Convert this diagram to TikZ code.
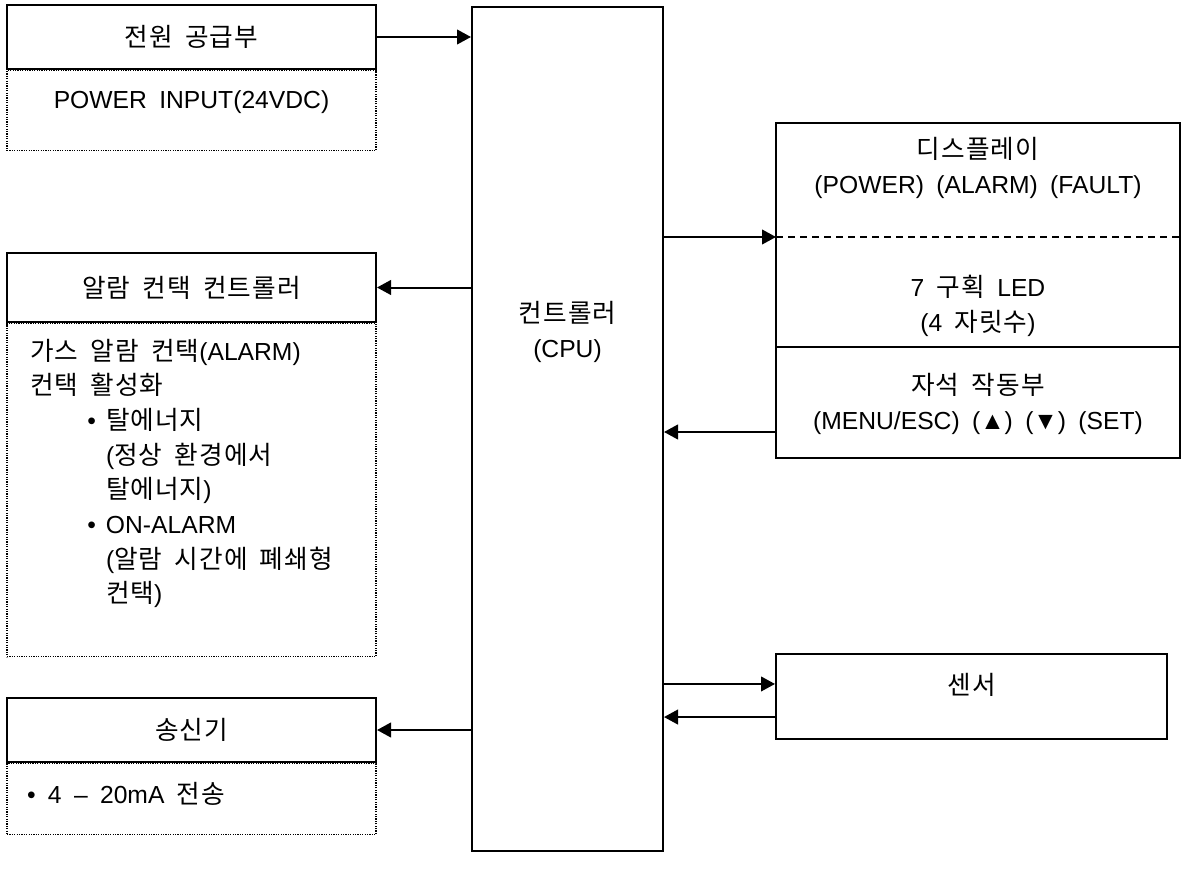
\documentclass[tikz,border=0pt]{standalone}
\usepackage{fontspec}
\setmainfont{Liberation Sans}[WordSpace=1.8]
\newfontfamily\hangulfont{Noto Sans CJK KR}[Scale=1.04,LetterSpace=4]
% Hangul syllables switch to the CJK face by themselves
\XeTeXinterchartokenstate=1
\newXeTeXintercharclass\hangulclass
\count255="AC00
\loop\ifnum\count255<"D7A4
  \XeTeXcharclass\count255=\hangulclass
  \advance\count255 by 1
\repeat
\XeTeXinterchartoks 0 \hangulclass={\begingroup\hangulfont}
\XeTeXinterchartoks 4095 \hangulclass={\begingroup\hangulfont}
\XeTeXinterchartoks \hangulclass 0={\endgroup}
\XeTeXinterchartoks \hangulclass 4095={\endgroup}
\usepackage{tikz}
\usetikzlibrary{arrows.meta,positioning}

\begin{document}
\begin{tikzpicture}[x=0.75pt,y=-0.75pt,->,>={Triangle[length=10.5pt,width=11pt]},
	line width=1.5pt,font=\fontsize{18.5}{26}\selectfont,
	head node/.style={draw,rectangle,line width=1.5pt,inner sep=0pt},
	note node/.style={draw,line width=1pt,dash pattern=on 0.9pt off 0.9pt,inner sep=0pt},
	text node/.style={align=center,inner sep=0pt}]

    \useasboundingbox (0,0) rectangle (1181,881);

    % left column
    \node[head node, minimum width=276.75pt, minimum height=48pt] (P) at (191.5,37) {전원 공급부};
    \node[note node, minimum width=276.75pt, minimum height=60pt, below=0pt of P] (Pn) {};
    \node[text node] (Pt) at (191.5,102) {POWER INPUT(24VDC)};

    \node[head node, minimum width=276.75pt, minimum height=51.75pt] (A) at (191.5,287.5) {알람 컨택 컨트롤러};
    \node[note node, minimum width=276.75pt, minimum height=249.75pt, below=0pt of A] (An) {};
    \node[text node, align=left, anchor=north west] (At) at (29,338) {가스 알람 컨택(ALARM)\\
		컨택 활성화\\
		\hspace*{43pt}\makebox[14pt][l]{•}탈에너지\\
		\hspace*{57pt}(정상 환경에서\\
		\hspace*{57pt}탈에너지)\\
		\hspace*{43pt}\makebox[14pt][l]{•}ON-ALARM\\
		\hspace*{57pt}(알람 시간에 폐쇄형\\
		\hspace*{57pt}컨택)};

    \node[head node, minimum width=276.75pt, minimum height=48pt] (T) at (191.5,730) {송신기};
    \node[note node, minimum width=276.75pt, minimum height=53.25pt, below=0pt of T] (Tn) {};
    \node[text node, anchor=west] (Tt) at (26,794) {• 4 – 20mA 전송};

    % controller
    \node[head node, minimum width=143.25pt, minimum height=633pt] (C) at (567.5,429) {};
    \node[text node] (Ct) at (567.5,332) {컨트롤러\\(CPU)};

    % right column
    \node[head node, minimum width=303pt, minimum height=251.25pt] (D) at (978,290.5) {};
    \coordinate (Dd) at (776,237);
    \coordinate (Dk) at (776,347);
    \coordinate (Dr) at (776,432);
    \draw[-,line width=1.1pt,dash pattern=on 5.25pt off 3.75pt] (Dd) -- (Dd -| D.east);
    \draw[-] (Dk) -- (Dk -| D.east);
    \node[text node] (Dt) at (978,168) {디스플레이\\(POWER) (ALARM) (FAULT)};
    \node[text node] (Lt) at (978,306) {7 구획 LED\\(4 자릿수)};
    \node[text node] (Kt) at (978,404) {자석 작동부\\(MENU/ESC) (▲) (▼) (SET)};

    \node[head node, minimum width=293.25pt, minimum height=63.75pt] (S) at (971.5,696.5) {};
    \node[text node] (St) at (971.5,685) {센서};

    % links
    \draw (P.east) -- (C.west |- P.east);
    \draw (C.west |- A.east) -- (A.east);
    \draw (C.west |- T.east) -- (T.east);
    \draw (C.east |- Dd) -- (Dd);
    \draw (Dr) -- (C.east |- Dr);
    \draw ([yshift=9.4pt]S.west -| C.east) -- ([yshift=9.4pt]S.west);
    \draw ([yshift=-15.4pt]S.west) -- ([yshift=-15.4pt]S.west -| C.east);

\end{tikzpicture}
\end{document}
